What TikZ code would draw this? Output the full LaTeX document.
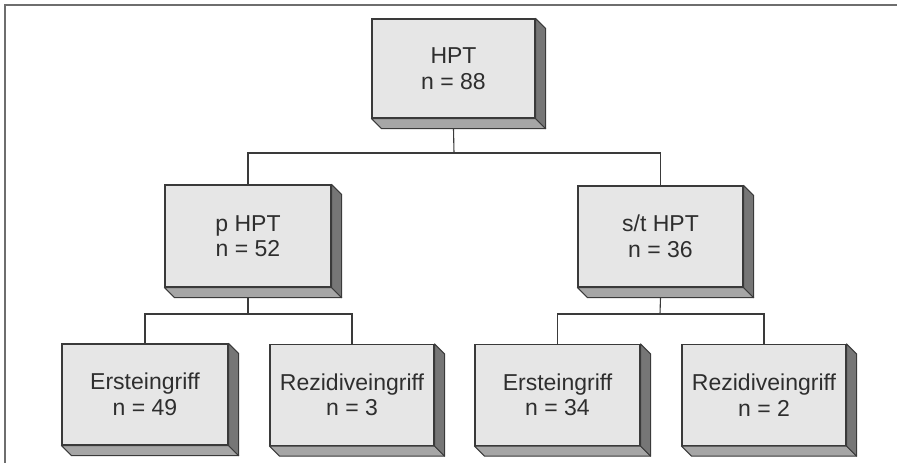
\documentclass[tikz,border=0pt]{standalone}
\usepackage{fontspec}
\setmainfont{Liberation Sans}
\usetikzlibrary{calc}
\definecolor{frontgray}{HTML}{E6E6E6}
\definecolor{bottomgray}{HTML}{A6A6A6}
\definecolor{sidegray}{HTML}{767676}
\definecolor{edgegray}{HTML}{3A3A3A}
\definecolor{framegray}{HTML}{6E6E6E}
\tikzset{
  boxfront/.style={draw=edgegray, line width=1.2pt, fill=frontgray,
    minimum width=164pt, minimum height=101pt, inner sep=0pt,
    align=center, font=\fontsize{23pt}{25.5pt}\selectfont, text=black!82},
  bottomface/.style={fill=bottomgray, draw=edgegray, line width=1pt, line join=round},
  sideface/.style={fill=sidegray, draw=edgegray, line width=1pt, line join=round},
  connector/.style={draw=edgegray, line width=1.1pt},
  frameline/.style={draw=framegray, line width=1.6pt}
}
\begin{document}
\begin{tikzpicture}[x=1pt,y=1pt]
\useasboundingbox (0,0) rectangle (897,-463);
% frame
\coordinate (ftl) at (5,-5);
\coordinate (ftr) at (897,-5);
\coordinate (fbl) at (5,-463);
\draw[frameline] (ftr) -- (ftl) -- (fbl);
% junction coordinates
\coordinate (j1) at (454,-153);
\coordinate (j2) at (248,-314);
\coordinate (j3) at (660,-314);
% boxes
\node[boxfront, minimum width=163pt, minimum height=99pt] (hpt) at (453.5,-68.5) {HPT\\n = 88};
\node[boxfront, minimum width=166pt, minimum height=102pt] (phpt) at (248,-236) {p HPT\\n = 52};
\node[boxfront, minimum width=165pt, minimum height=101pt] (sthpt) at (660.5,-236.5) {s/t HPT\\n = 36};
\node[boxfront, minimum width=166pt] (ea) at (145,-394.5) {Ersteingriff\\n = 49};
\node[boxfront] (ra) at (352,-395) {Rezidiveingriff\\n = 3};
\node[boxfront, minimum width=165pt] (eb) at (557.5,-395) {Ersteingriff\\n = 34};
\node[boxfront] (rb) at (764,-395) {Rezidiveingriff\\n = 2};
% 3D extrusions
\foreach \b in {hpt,phpt,sthpt,ea,ra,eb,rb}{
  \draw[bottomface] (\b.south west) -- ++(10,-10) -- ($(\b.south east)+(10,-10)$) -- (\b.south east) -- cycle;
  \draw[sideface] (\b.north east) -- ++(10,-10) -- ($(\b.south east)+(10,-10)$) -- (\b.south east) -- cycle;
}
% connectors
\draw[connector] ($(hpt.south)+(0,-10)$) -- (j1);
\draw[connector] (j1) -| (phpt.north);
\draw[connector] (j1) -| (sthpt.north);
\draw[connector] ($(phpt.south)+(0,-10)$) -- (j2);
\draw[connector] ($(sthpt.south)+(0,-10)$) -- (j3);
\draw[connector] (j2) -| (ea.north);
\draw[connector] (j2) -| (ra.north);
\draw[connector] (j3) -| (eb.north);
\draw[connector] (j3) -| (rb.north);
\end{tikzpicture}
\end{document}
